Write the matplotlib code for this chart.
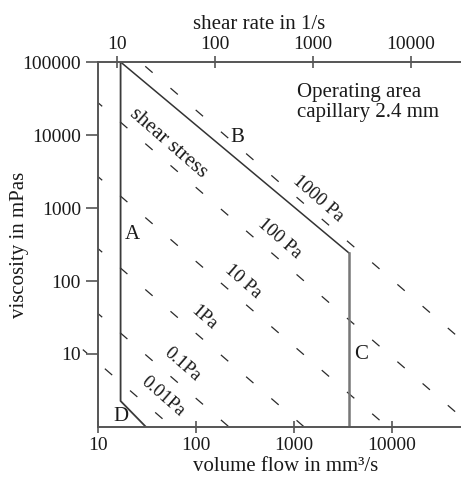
import matplotlib.pyplot as plt

plt.rcParams['font.family'] = ['Liberation Serif', 'DejaVu Serif']
plt.rcParams['lines.scale_dashes'] = False

# operating area outline (volume flow in mm³/s, viscosity in mPas)
area_q = [17, 3640, 3640, 30.9, 17, 17]
area_eta = [100000, 242, 1, 1, 2.27, 100000]

# shear stress lines, given by their two end points
stress_names = ['1000 Pa', '100 Pa', '10 Pa', '1Pa', '0.1Pa', '0.01Pa']
stress_q_left = [10, 10, 10, 10, 10, 7.0]
stress_eta_left = [317000, 27700, 2690, 278, 35.8, 11.5]
stress_q_right = [100000, 100000, 100000, 100000, 100000, 56.9]
stress_eta_right = [7.18, 0.627, 0.061, 0.0063, 8.1e-4, 1.0]
stress_label_q = [1758, 719, 302, 121, 71.9, 46.0]
stress_label_eta = [1328, 376, 96.9, 31.1, 7.29, 2.58]

x_ticks = [10, 100, 1000, 10000]
y_ticks = [10, 100, 1000, 10000, 100000]
shear_ticks = [10, 100, 1000, 10000]
shear_factor = 0.64  # shear rate per volume flow, 2.4 mm capillary

fig = plt.figure(figsize=(4.61, 4.78), dpi=100)
ax = fig.add_axes([98 / 461, 51 / 478, 363 / 461, 365 / 478])
ax.set_xscale('log')
ax.set_yscale('log')
ax.set_xlim(10, 50600)
ax.set_ylim(1, 100000)

axis_col = '#555555'
ink = '#1a1a1a'

for i in range(len(stress_names)):
    # the lowest line pokes out past the left axis in the original
    ax.plot([stress_q_left[i], stress_q_right[i]],
            [stress_eta_left[i], stress_eta_right[i]],
            color='#2a2a2a', lw=0.9, ls=(3, (7, 17)), clip_on=(i != 5))
    ax.text(stress_label_q[i], stress_label_eta[i], stress_names[i], fontsize=13.5,
            rotation=-41, ha='center', va='center', color=ink)

ax.plot(area_q[:2], area_eta[:2], color='#333333', lw=1.1)
ax.plot(area_q[1:3], area_eta[1:3], color='#777777', lw=1.8)
ax.plot(area_q[3:], area_eta[3:], color='#3a3a3a', lw=1.3)

ax.text(51.8, 7770, 'shear stress', fontsize=15, rotation=-41,
        ha='center', va='center', color=ink)
ax.text(22.2, 427, 'A', fontsize=15, ha='center', va='center', color=ink)
ax.text(262, 9100, 'B', fontsize=15, ha='center', va='center', color=ink)
ax.text(4830, 9.69, 'C', fontsize=15, ha='center', va='center', color=ink)
ax.text(17.2, 1.41, 'D', fontsize=15, ha='center', va='center', color=ink)
ax.text(0.548, 0.89, 'Operating area\ncapillary 2.4 mm', transform=ax.transAxes,
        fontsize=15, ha='left', va='center', linespacing=1.05, color=ink)

ax.set_xticks(x_ticks, [str(t) for t in x_ticks])
ax.set_yticks(y_ticks, [str(t) for t in y_ticks])
ax.minorticks_off()
ax.tick_params(axis='x', direction='inout', length=8, width=1.2, pad=3,
               labelsize=14, color=axis_col, labelcolor=ink)
ax.tick_params(axis='y', direction='out', length=8.6, width=1.2, pad=3.6,
               labelsize=14, color=axis_col, labelcolor=ink)

for side in ['left', 'bottom', 'top']:
    ax.spines[side].set_color(axis_col)
    ax.spines[side].set_linewidth(1.4)
ax.spines['right'].set_visible(False)

sec = ax.secondary_xaxis('top', functions=(lambda q: q * shear_factor,
                                           lambda g: g / shear_factor))
sec.set_xticks(shear_ticks, [str(t) for t in shear_ticks])
sec.minorticks_off()
sec.tick_params(direction='inout', length=8, width=1.2, pad=2.5,
                labelsize=14, color=axis_col, labelcolor=ink)
sec.spines['top'].set_visible(False)

ax.text(0.4435, 1.104, 'shear rate in 1/s', transform=ax.transAxes,
        fontsize=15, ha='center', va='center', color=ink)
ax.text(0.518, -0.108, 'volume flow in mm³/s', transform=ax.transAxes,
        fontsize=15, ha='center', va='center', color=ink)
ax.text(-0.215, 0.5, 'viscosity in mPas', transform=ax.transAxes,
        fontsize=15, rotation=90, ha='center', va='center', color=ink)

fig.savefig('out.png', dpi=100)
